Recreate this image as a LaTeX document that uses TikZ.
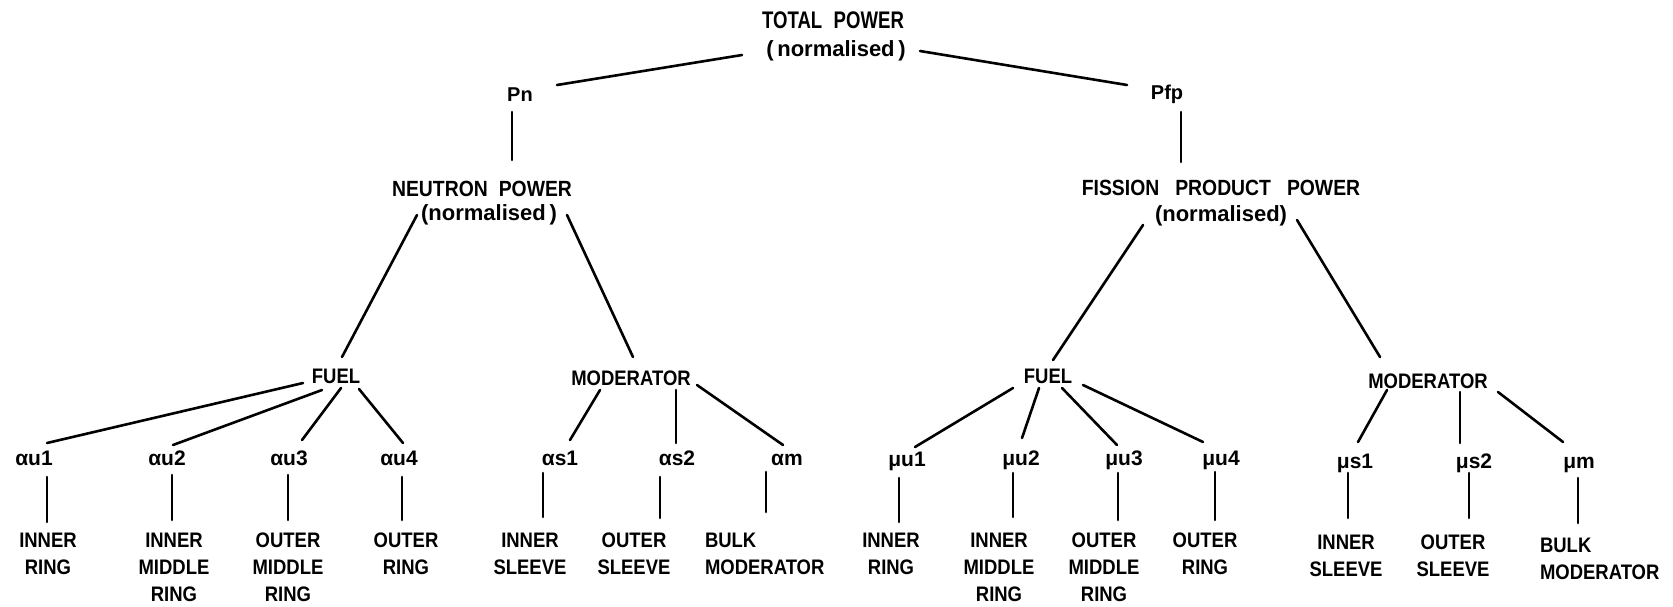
\documentclass[tikz,border=0pt]{standalone}
\usepackage{fontspec}
\newfontfamily\labf[FakeStretch=0.88]{Liberation Sans}
\newfontfamily\labw{Liberation Sans}
\usetikzlibrary{calc}
\tikzset{
  base/.style={inner sep=0pt, outer sep=0pt, anchor=base},
  big/.style={base, font=\labf\bfseries\fontsize{12}{14}\selectfont},
  head/.style={base, font=\labf\bfseries\fontsize{11}{13}\selectfont},
  paren/.style={base, font=\labw\bfseries\fontsize{11}{13}\selectfont},
  sym/.style={base, font=\labw\bfseries\fontsize{10}{12}\selectfont},
  grp/.style={base, font=\labf\bfseries\fontsize{10.5}{13}\selectfont},
  grk/.style={base, font=\labw\bfseries\fontsize{10.5}{12}\selectfont},
  leaf/.style={inner sep=0pt, outer sep=0pt, anchor=north, align=center, font=\labf\bfseries\fontsize{10.5}{13.5}\selectfont},
  leafl/.style={leaf, align=left, anchor=north west},
  conn/.style={line width=1.3pt, line cap=round},
}
\newcommand\lnk[4]{\draw[conn] ($(#1)+(#2)$) -- ($(#3)+(#4)$);}
\begin{document}
\begin{tikzpicture}[x=0.5pt,y=-0.5pt]
\fill[white] (0,0) rectangle (1673,606);
\useasboundingbox (0,0) rectangle (1673,606);

% top levels
\node[big] (total) at (833,28) {\scalebox{0.88}[1]{TOTAL\hspace{6.5pt}POWER}};
\node[paren] (totaln) at (836,56) {(\,normalised\,)};
\node[sym] (pn) at (520,101) {Pn};
\node[sym] (pfp) at (1167,99) {Pfp};
\node[head] (neut) at (482,196) {NEUTRON\hspace{5.5pt}POWER};
\node[paren] (neutn) at (489,220) {(normalised\,)};
\node[head] (fiss) at (1221,195) {FISSION\hspace{8pt}PRODUCT\hspace{8pt}POWER};
\node[paren] (fissn) at (1221,221) {(normalised)};

\node[grp] (fuelL) at (336,383) {FUEL};
\node[grp] (modL) at (631,385) {MODERATOR};
\node[grp] (fuelR) at (1048,383) {FUEL};
\node[grp] (modR) at (1428,388) {MODERATOR};

% greek row
\node[grk] (au1) at (34,465) {αu1};
\node[grk] (au2) at (167,465) {αu2};
\node[grk] (au3) at (289,465) {αu3};
\node[grk] (au4) at (399,465) {αu4};
\node[grk] (as1) at (560,465) {αs1};
\node[grk] (as2) at (677,465) {αs2};
\node[grk] (am) at (787,465) {αm};
\node[grk] (mu1) at (907,466) {μu1};
\node[grk] (mu2) at (1021,465) {μu2};
\node[grk] (mu3) at (1124,465) {μu3};
\node[grk] (mu4) at (1221,465) {μu4};
\node[grk] (ms1) at (1355,468) {μs1};
\node[grk] (ms2) at (1474,468) {μs2};
\node[grk] (mm) at (1579,468) {μm};

% leaves
\node[leaf] (l1) at (48,533) {INNER\\RING};
\node[leaf] (l2) at (174,533) {INNER\\MIDDLE\\RING};
\node[leaf] (l3) at (288,533) {OUTER\\MIDDLE\\RING};
\node[leaf] (l4) at (406,533) {OUTER\\RING};
\node[leaf] (l5) at (530,533) {INNER\\SLEEVE};
\node[leaf] (l6) at (634,533) {OUTER\\SLEEVE};
\node[leafl] (l7) at (705,533) {BULK\\MODERATOR};
\node[leaf] (r1) at (891,533) {INNER\\RING};
\node[leaf] (r2) at (999,533) {INNER\\MIDDLE\\RING};
\node[leaf] (r3) at (1104,533) {OUTER\\MIDDLE\\RING};
\node[leaf] (r4) at (1205,533) {OUTER\\RING};
\node[leaf] (r5) at (1346,535) {INNER\\SLEEVE};
\node[leaf] (r6) at (1453,535) {OUTER\\SLEEVE};
\node[leafl] (r7) at (1540,538) {BULK\\MODERATOR};

% connectors: upper tree
\lnk{totaln.base}{-94,-1}{pn.base}{37,-16}
\lnk{totaln.base}{84,-5}{pfp.base}{-40,-14}
\lnk{pn.base}{-8,11}{neut.base}{30,-36}
\lnk{pfp.base}{14,13}{fiss.base}{-40,-33}
\lnk{neutn.base}{-72,-5}{fuelL.base}{6,-26}
\lnk{neutn.base}{78,-5}{modL.base}{2,-28}
\lnk{fissn.base}{-78,4}{fuelR.base}{5,-23}
\lnk{fissn.base}{76,-1}{modR.base}{-48,-31}

% fuel / moderator to coefficients
\lnk{fuelL.base}{-33,0}{au1.base}{13,-22}
\lnk{fuelL.base}{-14,7}{au2.base}{6,-20}
\lnk{fuelL.base}{5,5}{au3.base}{13,-25}
\lnk{fuelL.base}{23,6}{au4.base}{4,-22}
\lnk{modL.base}{-31,5}{as1.base}{10,-25}
\lnk{modL.base}{45,5}{as2.base}{-1,-22}
\lnk{modL.base}{66,0}{am.base}{-4,-20}
\lnk{fuelR.base}{-35,5}{mu1.base}{8,-19}
\lnk{fuelR.base}{-9,5}{mu2.base}{1,-27}
\lnk{fuelR.base}{14,5}{mu3.base}{-7,-20}
\lnk{fuelR.base}{35,2}{mu4.base}{-18,-23}
\lnk{modR.base}{-41,2}{ms1.base}{3,-26}
\lnk{modR.base}{32,4}{ms2.base}{-14,-25}
\lnk{modR.base}{70,4}{mm.base}{-16,-26}

% coefficients to regions
\lnk{au1.base}{13,12}{l1.north}{-1,-11}
\lnk{au2.base}{5,10}{l2.north}{-2,-13}
\lnk{au3.base}{-1,10}{l3.north}{0,-13}
\lnk{au4.base}{3,12}{l4.north}{-4,-13}
\lnk{as1.base}{-17,8}{l5.north}{13,-16}
\lnk{as2.base}{-17,12}{l6.north}{26,-15}
\lnk{am.base}{-21,7}{l7.north west}{61,-21}
\lnk{mu1.base}{-8,12}{r1.north}{8,-11}
\lnk{mu2.base}{-8,8}{r2.north}{14,-16}
\lnk{mu3.base}{-6,8}{r3.north}{14,-13}
\lnk{mu4.base}{-6,7}{r4.north}{10,-13}
\lnk{ms1.base}{-7,5}{r5.north}{2,-17}
\lnk{ms2.base}{-5,5}{r6.north}{16,-17}
\lnk{mm.base}{-1,10}{r7.north west}{38,-15}
\end{tikzpicture}
\end{document}
